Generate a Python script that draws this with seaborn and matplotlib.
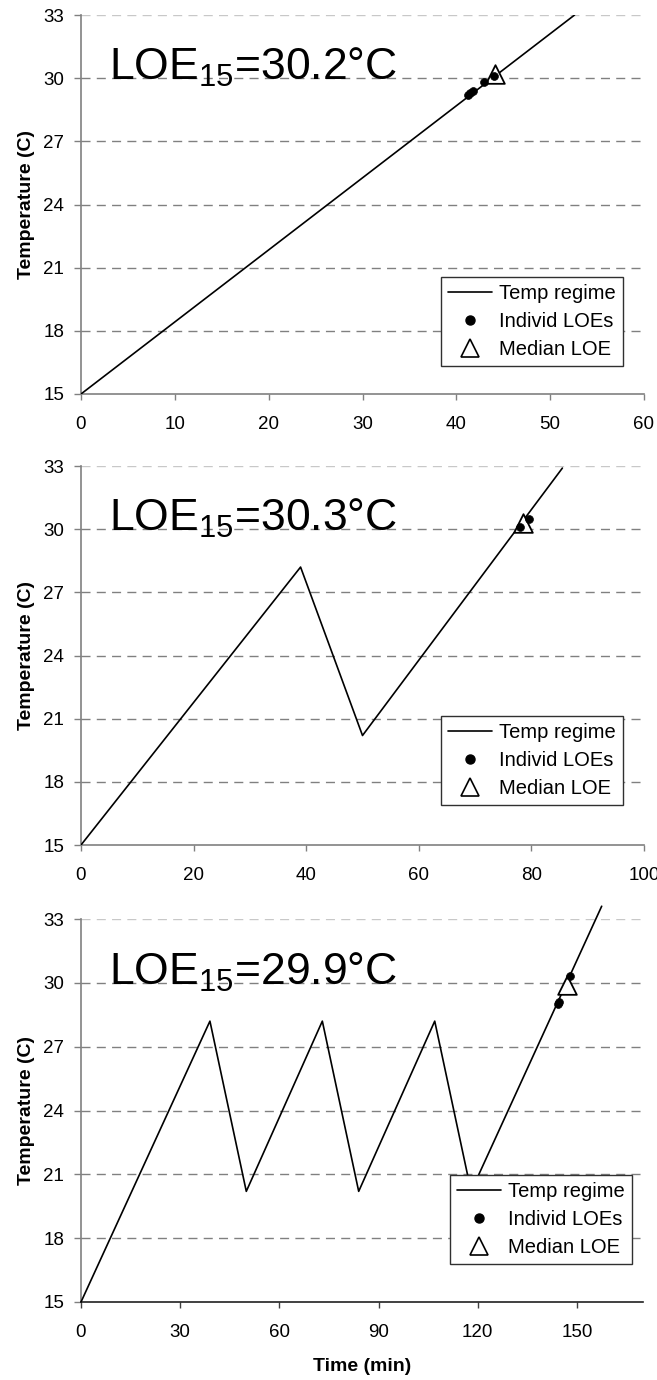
import matplotlib
matplotlib.use("Agg")
import matplotlib.pyplot as plt
from matplotlib.lines import Line2D
import seaborn as sns
import pandas as pd

# ---------------- data ----------------
p1_time = [0, 52.6]
p1_temp = [15.0, 33.0]
p1_ind_time = [41.2, 41.5, 41.8, 43.0, 44.0]
p1_ind_temp = [29.2, 29.3, 29.4, 29.8, 30.1]
p1_med_time = [44.1]
p1_med_temp = [30.2]

p2_time = [0, 39, 50, 85.5]
p2_temp = [15.0, 28.2, 20.2, 32.9]
p2_ind_time = [78.0, 79.5]
p2_ind_temp = [30.1, 30.5]
p2_med_time = [78.5]
p2_med_temp = [30.3]

p3_time = [0, 39, 50, 73, 84, 107, 118, 157.5]
p3_temp = [15.0, 28.2, 20.2, 28.2, 20.2, 28.2, 20.2, 33.6]
p3_ind_time = [144.3, 144.6, 147.9]
p3_ind_temp = [29.0, 29.1, 30.3]
p3_med_time = [147.0]
p3_med_temp = [29.9]

titles = ["30.2", "30.3", "29.9"]
x_ticks = [list(range(0, 61, 10)), list(range(0, 101, 20)), list(range(0, 151, 30))]
x_lims = [(0, 60), (0, 100), (0, 170)]
y_ticks = [15, 18, 21, 24, 27, 30, 33]

legend_labels = ["Temp regime", "Individ LOEs", "Median LOE"]

# ---------------- style ----------------
sns.set_theme(style="white")
plt.rcParams["font.family"] = ["Liberation Sans", "DejaVu Sans"]
plt.rcParams["mathtext.fontset"] = "custom"
plt.rcParams["mathtext.rm"] = "Liberation Sans"
plt.rcParams["mathtext.it"] = "Liberation Sans"
plt.rcParams["mathtext.bf"] = "Liberation Sans:bold"
plt.rcParams["text.color"] = "black"
plt.rcParams["axes.labelcolor"] = "black"
plt.rcParams["xtick.color"] = "black"
plt.rcParams["ytick.color"] = "black"

W, H = 657, 1380
fig = plt.figure(figsize=(W / 100, H / 100), dpi=100)
fig.patch.set_facecolor("white")

axes_px = [(81, 15, 644, 394), (81, 466, 644, 845), (81, 919, 643, 1302)]
legend_anchor = [(0.963, 0.074), (0.963, 0.106), (0.98, 0.099)]

panels = [
    (p1_time, p1_temp, p1_ind_time, p1_ind_temp, p1_med_time, p1_med_temp),
    (p2_time, p2_temp, p2_ind_time, p2_ind_temp, p2_med_time, p2_med_temp),
    (p3_time, p3_temp, p3_ind_time, p3_ind_temp, p3_med_time, p3_med_temp),
]

for i, (l, t, r, b) in enumerate(axes_px):
    ax = fig.add_axes([l / W, 1 - b / H, (r - l) / W, (b - t) / H])
    tt, tp, it, ip, mt, mp = panels[i]

    # gridlines
    for yv in y_ticks[1:]:
        ax.axhline(yv, color="#c8c8c8" if yv == 33 else "#808080",
                   lw=1.0, ls=(0, (6.5, 4.5)), zorder=0.5)

    line_df = pd.DataFrame({"time": tt, "temp": tp})
    sns.lineplot(data=line_df, x="time", y="temp", sort=False, estimator=None,
                 color="black", lw=1.2, ax=ax, legend=False, zorder=3)
    if i == 2:
        for ln in ax.lines:
            if ln.get_color() == "black":
                ln.set_clip_on(False)

    med_df = pd.DataFrame({"time": mt, "temp": mp})
    sns.scatterplot(data=med_df, x="time", y="temp", marker="^", s=180,
                    facecolor="white", edgecolor="black", linewidth=1.3,
                    ax=ax, legend=False, zorder=4, clip_on=False)
    ind_df = pd.DataFrame({"time": it, "temp": ip})
    sns.scatterplot(data=ind_df, x="time", y="temp", marker="o", s=32,
                    color="black", edgecolor="black", linewidth=0.5,
                    ax=ax, legend=False, zorder=5, clip_on=False)

    ax.set_xlim(*x_lims[i])
    ax.set_ylim(15, 33)
    ax.set_xticks(x_ticks[i])
    ax.set_yticks(y_ticks)
    ax.tick_params(axis="both", labelsize=13.5, labelcolor="black",
                   direction="out", width=1)
    ax.tick_params(axis="x", pad=12, length=4, bottom=True,
                   color="#404040" if i == 2 else "#808080")
    ax.tick_params(axis="y", pad=7, length=5, left=True, color="#808080")
    for s in ["top", "right"]:
        ax.spines[s].set_visible(False)
    ax.spines["left"].set_color("#808080")
    ax.spines["bottom"].set_color("#202020" if i == 2 else "#808080")
    ax.spines["left"].set_linewidth(1.2)
    ax.spines["bottom"].set_linewidth(1.2)
    ax.set_facecolor("white")

    ax.set_ylabel("Temperature (C)", fontsize=14, fontweight="bold",
                  labelpad=6, color="black")
    if i == 2:
        ax.set_xlabel("Time (min)", fontsize=14, fontweight="bold",
                      labelpad=12, color="black")
    else:
        ax.set_xlabel("")

    ax.text(0.05, 0.828, r"LOE$_{\mathrm{15}}$=" + titles[i] + "°C",
            transform=ax.transAxes, fontsize=32, ha="left", va="baseline",
            color="black")

    handles = [
        Line2D([], [], color="black", lw=1.2),
        Line2D([], [], color="black", marker="o", ls="none", markersize=6.5),
        Line2D([], [], color="black", marker="^", ls="none", markersize=13,
               markerfacecolor="white", markeredgewidth=1.2),
    ]
    leg = ax.legend(handles, legend_labels, loc="lower right",
                    bbox_to_anchor=legend_anchor[i], fontsize=14.5,
                    frameon=True, fancybox=False, framealpha=1,
                    edgecolor="#303030", borderpad=0.35, labelspacing=0.45,
                    handlelength=2.2, handletextpad=0.35, borderaxespad=0)
    for txt in leg.get_texts():
        txt.set_color("black")
    leg.get_frame().set_linewidth(1.0)
    leg.set_zorder(10)

fig.savefig("out.png", dpi=100, facecolor="white")
